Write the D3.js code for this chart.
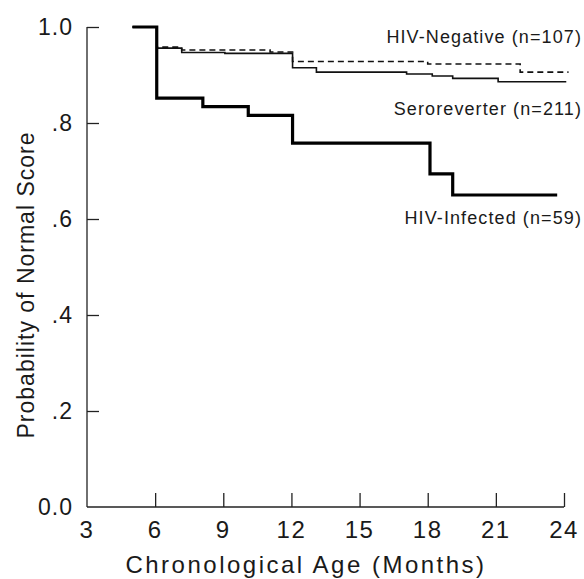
<!DOCTYPE html>
<html>
<head>
<meta charset="utf-8">
<script src="https://cdn.jsdelivr.net/npm/d3@7"></script>
<style>
  body { margin: 0; background: #fff; }
  text { font-family: "Liberation Sans", Arial, sans-serif; fill: #1a1a1a; }
</style>
</head>
<body>
<svg id="chart"></svg>
<script>
      // Kaplan-Meier style step curves
      const infectedMonths = [5, 6.07, 8.1, 10.1, 12.05, 18.1, 19.1, 23.7];
      const infectedProb = [1.0, 0.852, 0.834, 0.816, 0.758, 0.694, 0.65, 0.65];

      const seroMonths = [5, 6.07, 7.17, 9.07, 12.05, 13.1, 17.07, 18.2, 19.1, 21.1, 24.1];
      const seroProb = [1.0, 0.956, 0.947, 0.945, 0.915, 0.906, 0.902, 0.898, 0.893, 0.886, 0.886];

      const negMonths = [5, 6.07, 7.17, 11.06, 12.05, 18.0, 22.07, 24.2];
      const negProb = [1.0, 0.958, 0.952, 0.948, 0.928, 0.923, 0.906, 0.906];

      const xTicks = [3, 6, 9, 12, 15, 18, 21, 24];
      const yTicks = [0, 0.2, 0.4, 0.6, 0.8, 1.0];
      const yTickLabels = ["0.0", ".2", ".4", ".6", ".8", "1.0"];

      const labels = ["HIV-Negative (n=107)", "Seroreverter (n=211)", "HIV-Infected (n=59)"];
      const labelProb = [0.967, 0.817, 0.59];

      const width = 584, height = 579;

      const svg = d3.select("#chart")
        .attr("width", width)
        .attr("height", height);

      // Scales
      const x = d3.scaleLinear().domain([3, 24]).range([87, 564]);
      const y = d3.scaleLinear().domain([0, 1]).range([507, 27]);

      // Axes with ticks pointing inward
      const xAxis = svg.append("g")
        .attr("transform", `translate(0, ${y(0)})`)
        .call(d3.axisTop(x).tickValues(xTicks).tickSize(14).tickFormat(""));
      xAxis.select(".domain").attr("d", `M${x(3)},0H${x(24)}`);
      xAxis.selectAll("line").filter((d) => d === 3).remove();

      const yAxis = svg.append("g")
        .attr("transform", `translate(${x(3)}, 0)`)
        .call(d3.axisRight(y).tickValues(yTicks).tickSize(12).tickFormat(""));
      yAxis.select(".domain").attr("d", `M0,${y(1)}V${y(0)}`);
      yAxis.selectAll("line").filter((d) => d === 0).remove();

      svg.selectAll(".domain, .tick line")
        .attr("stroke", "#222")
        .attr("stroke-width", 1.3);

      // Tick labels
      svg.append("g").selectAll("text")
        .data(xTicks)
        .enter()
        .append("text")
        .attr("x", (d) => x(d))
        .attr("y", 538)
        .attr("text-anchor", "middle")
        .attr("font-size", 24)
        .attr("letter-spacing", 1.5)
        .text((d) => d);

      svg.append("g").selectAll("text")
        .data(yTicks)
        .enter()
        .append("text")
        .attr("x", 73)
        .attr("y", (d) => y(d) + 8)
        .attr("text-anchor", "end")
        .attr("font-size", 23)
        .attr("letter-spacing", 1)
        .text((d, i) => yTickLabels[i]);

      // Axis titles
      svg.append("text")
        .attr("x", 306)
        .attr("y", 573)
        .attr("text-anchor", "middle")
        .attr("font-size", 24)
        .attr("letter-spacing", 2.5)
        .text("Chronological Age (Months)");

      svg.append("text")
        .attr("transform", `translate(34, 285) rotate(-90)`)
        .attr("text-anchor", "middle")
        .attr("font-size", 23)
        .attr("letter-spacing", 1)
        .text("Probability of Normal Score");

      // Step lines
      const stepLine = d3.line()
        .x((d) => x(d[0]))
        .y((d) => y(d[1]))
        .curve(d3.curveStepAfter);

      const zip = (a, b) => a.map((d, i) => [d, b[i]]);

      svg.append("path")
        .datum(zip(negMonths, negProb))
        .attr("fill", "none")
        .attr("stroke", "#111")
        .attr("stroke-width", 1.6)
        .attr("stroke-dasharray", "6,4")
        .attr("d", stepLine);

      svg.append("path")
        .datum(zip(seroMonths, seroProb))
        .attr("fill", "none")
        .attr("stroke", "#111")
        .attr("stroke-width", 1.6)
        .attr("d", stepLine);

      svg.append("path")
        .datum(zip(infectedMonths, infectedProb))
        .attr("fill", "none")
        .attr("stroke", "#000")
        .attr("stroke-width", 3.2)
        .attr("d", stepLine);

      // Curve labels
      svg.append("g").selectAll("text")
        .data(labels)
        .enter()
        .append("text")
        .attr("x", 582)
        .attr("y", (d, i) => y(labelProb[i]))
        .attr("text-anchor", "end")
        .attr("font-size", 18)
        .attr("letter-spacing", 1.1)
        .text((d) => d);
</script>
</body>
</html>
